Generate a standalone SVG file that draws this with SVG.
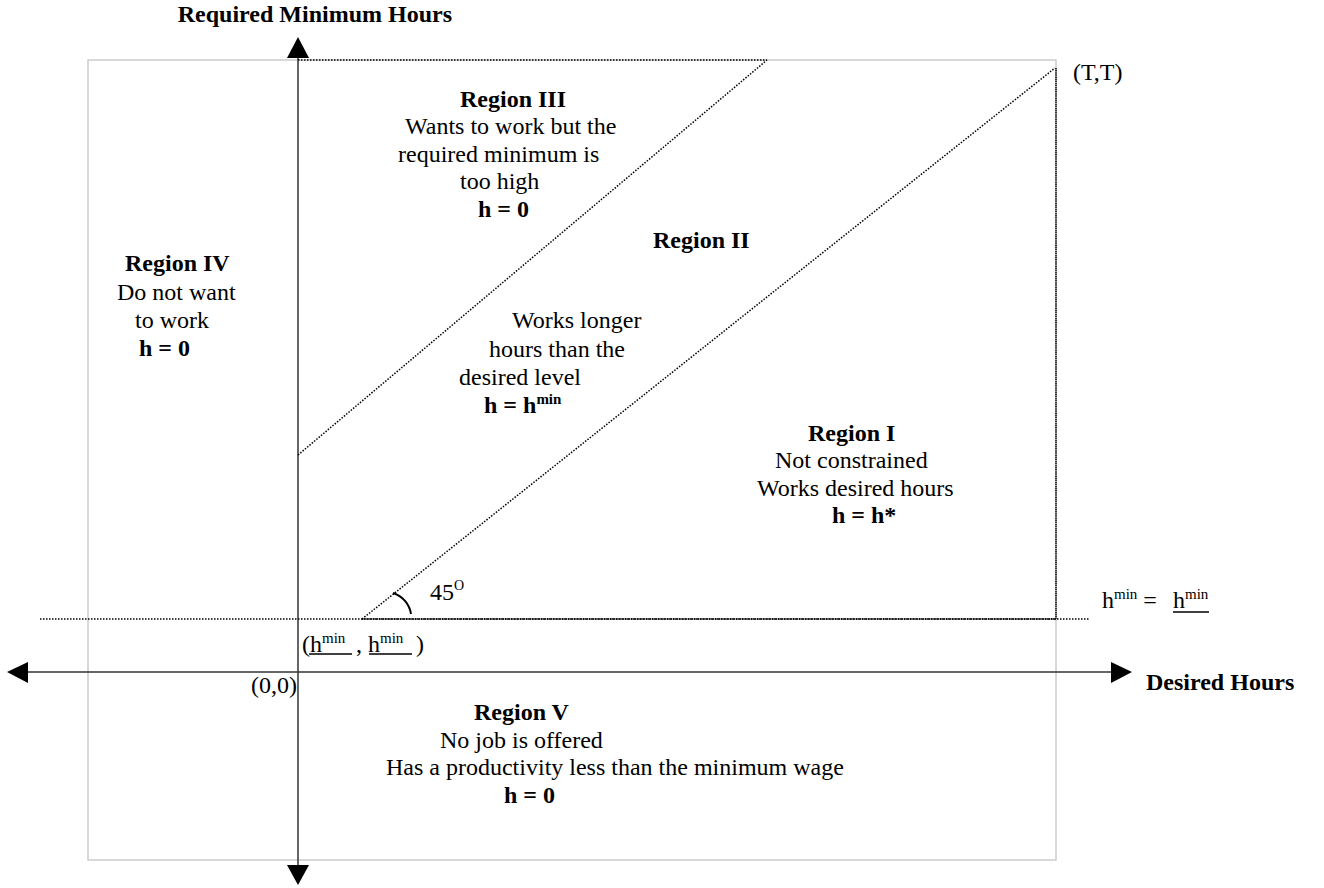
<svg xmlns="http://www.w3.org/2000/svg" width="1324" height="888" viewBox="0 0 1324 888">
<style>
  text { font-family: "Liberation Serif", "Times New Roman", serif; font-size: 24px; fill: #000; }
  .b { font-weight: bold; }
  .sup { font-size: 15px; }
  .frame { fill: none; stroke: #cccccc; stroke-width: 1.5; }
  .axis { stroke: #333; stroke-width: 1.5; fill: none; }
  .dot { stroke: #000; stroke-width: 1.5; stroke-dasharray: 1.5 1.5; fill: none; }
  .dense { stroke: #000; stroke-width: 1.5; stroke-dasharray: 1.5 0.6; fill: none; }
  .head { fill: #000; stroke: none; }
</style>
<rect width="1324" height="888" fill="#fff"/>
<g id="frame">
  <rect class="frame" x="88" y="60" width="968" height="800"/>
</g>
<g id="connectors">
  <line class="axis" x1="298" y1="56" x2="298" y2="866"/>
  <polygon class="head" points="298,37 287,58 309,58"/>
  <polygon class="head" points="298,885 287,865 309,865"/>
  <line class="axis" x1="27" y1="672" x2="1112" y2="672"/>
  <polygon class="head" points="7,672 28,662 28,683"/>
  <polygon class="head" points="1132,672 1111,662 1111,683"/>
  <line class="dot" x1="40" y1="619" x2="1090" y2="619"/>
  <line class="dense" x1="362" y1="619" x2="1056" y2="619"/>
  <line class="dot" x1="362" y1="619" x2="1055" y2="68"/>
  <line class="dot" x1="298" y1="455" x2="767" y2="60"/>
  <line class="dot" x1="298" y1="60" x2="767" y2="60"/>
  <line class="dense" x1="1056" y1="68" x2="1056" y2="619"/>
  <path d="M 393 593 A 26 26 0 0 1 411 614" stroke="#000" stroke-width="2" fill="none"/>
</g>
<g id="axis-labels">
  <text class="b" x="452" y="22" text-anchor="end">Required Minimum Hours</text>
  <text class="b" x="1146" y="690">Desired Hours</text>
  <text x="297" y="693" text-anchor="end">(0,0)</text>
  <text x="1073" y="80">(T,T)</text>
  <text x="430" y="600">45<tspan font-size="14" dy="-10">O</tspan></text>
</g>
<g id="hmin-point">
  <text x="302" y="652">(h<tspan class="sup" dy="-9">min</tspan><tspan dy="9"> </tspan></text>
  <line x1="309" y1="654" x2="352" y2="654" stroke="#000" stroke-width="1.5"/>
  <text x="356" y="652">, h<tspan class="sup" dy="-9">min</tspan></text>
  <line x1="369" y1="654" x2="412" y2="654" stroke="#000" stroke-width="1.5"/>
  <text x="416" y="652">)</text>
</g>
<g id="hmin-line-label">
  <text x="1102" y="608">h<tspan class="sup" dy="-9">min</tspan><tspan dy="9"> = </tspan></text>
  <text x="1173" y="608">h<tspan class="sup" dy="-9">min</tspan></text>
  <line x1="1173" y1="612" x2="1209" y2="612" stroke="#000" stroke-width="1.5"/>
</g>
<g id="region-iii">
  <text class="b" x="460" y="107">Region III</text>
  <text x="405" y="134">Wants to work but the</text>
  <text x="398" y="162">required minimum is</text>
  <text x="460" y="189">too high</text>
  <text class="b" x="478" y="217">h = 0</text>
</g>
<g id="region-iv">
  <text class="b" x="125" y="271">Region IV</text>
  <text x="117" y="300">Do not want</text>
  <text x="135" y="328">to work</text>
  <text class="b" x="139" y="356">h = 0</text>
</g>
<g id="region-ii">
  <text class="b" x="653" y="248">Region II</text>
  <text x="512" y="328">Works longer</text>
  <text x="489" y="357">hours than the</text>
  <text x="459" y="385">desired level</text>
  <text class="b" x="484" y="413">h = h<tspan class="sup" dy="-9">min</tspan></text>
</g>
<g id="region-i">
  <text class="b" x="808" y="441">Region I</text>
  <text x="775" y="468">Not constrained</text>
  <text x="757" y="496">Works desired hours</text>
  <text class="b" x="832" y="523">h = h*</text>
</g>
<g id="region-v">
  <text class="b" x="474" y="720">Region V</text>
  <text x="440" y="748">No job is offered</text>
  <text x="386" y="775">Has a productivity less than the minimum wage</text>
  <text class="b" x="504" y="803">h = 0</text>
</g>
</svg>
